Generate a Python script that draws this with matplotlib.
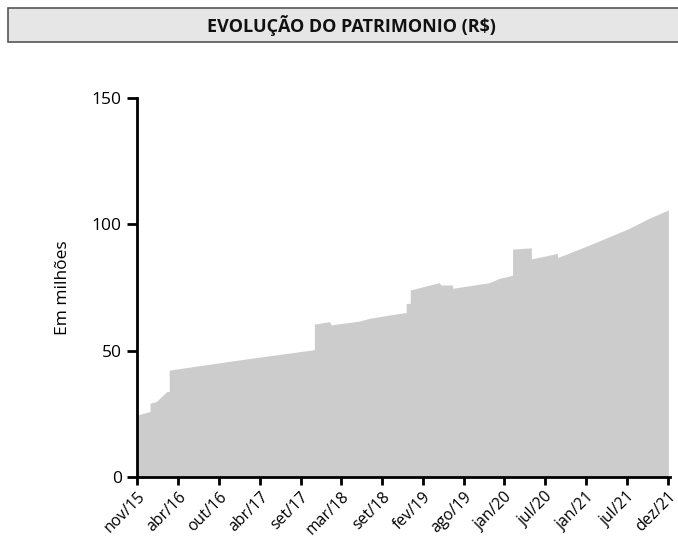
import matplotlib
matplotlib.use("Agg")
import matplotlib.pyplot as plt
from matplotlib.patches import Rectangle

plt.rcParams['font.family'] = ['Open Sans', 'DejaVu Sans']

# x position in observation index (tick labels every 10 observations)
obs = [0, 2.7, 3.1, 3.1, 4.6, 7.2, 7.8, 7.8, 23.5, 43.4, 43.4, 47.1, 47.5, 50.2,
       54.4, 56.9, 61.8, 65.4, 65.9, 65.9, 66.9, 66.9, 74.0, 74.4, 77.3, 77.3,
       86.3, 88.7, 91.2, 92.0, 92.0, 96.6, 96.6, 103.0, 103.0, 110.8, 113.2,
       115.7, 120.6, 125.5, 130.2]
patrimonio = [24.5, 25.8, 25.8, 29.2, 29.8, 33.8, 33.8, 42.3, 46.0, 50.4, 60.5, 61.5, 60.2, 60.8,
              61.7, 62.8, 64.1, 65.0, 65.0, 68.7, 68.7, 74.0, 76.9, 76.0, 76.0, 74.7,
              76.9, 78.6, 79.5, 79.9, 90.2, 90.7, 86.3, 88.5, 86.8, 91.8, 93.4,
              95.1, 98.4, 102.4, 105.7]
tick_labels = ['nov/15', 'abr/16', 'out/16', 'abr/17', 'set/17', 'mar/18', 'set/18',
               'fev/19', 'ago/19', 'jan/20', 'jul/20', 'jan/21', 'jul/21', 'dez/21']
tick_pos = [i * 10 for i in range(len(tick_labels))]
y_ticks = [0, 50, 100, 150]

fig = plt.figure(figsize=(6.78, 5.38), dpi=100)

# title box
fig.patches.append(Rectangle((8/678, 1-42/538), 672/678, 34/538, transform=fig.transFigure,
                             facecolor='#e6e6e6', edgecolor='#555555', linewidth=1.2))
fig.text(351/678, 1-26/538, 'EVOLUÇÃO DO PATRIMONIO (R$)', ha='center', va='center',
         fontsize=13, fontweight='bold', color='#111111')

ax = fig.add_axes([137/678, 1-477/538, 533/678, 379/538])
ax.fill_between(obs, patrimonio, 0, color='#cccccc', linewidth=0)
ax.set_xlim(-0.1, 130.6)
ax.set_ylim(0, 150)
ax.set_yticks(y_ticks)
ax.set_xticks(tick_pos)
ax.set_xticklabels(tick_labels, rotation=45, ha='right', rotation_mode='anchor', fontsize=11.3)
ax.tick_params(axis='y', labelsize=12.5, length=7, width=2, pad=4)
ax.tick_params(axis='x', length=6, width=2, pad=2.5)
for s in ['top', 'right']:
    ax.spines[s].set_visible(False)
for s in ['left', 'bottom']:
    ax.spines[s].set_linewidth(2)
ax.set_ylabel('Em milhões', fontsize=12.5, labelpad=15)

fig.savefig('out.png', dpi=100)
